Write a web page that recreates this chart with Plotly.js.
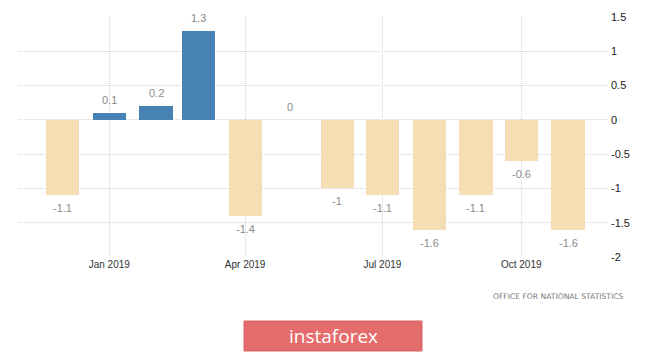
<!DOCTYPE html>
<html>
<head>
<meta charset="utf-8">
<script src="https://cdn.plot.ly/plotly-3.0.1.min.js"></script>
<style>html,body{margin:0;padding:0;background:#fff;}#chart{width:665px;height:352px;}</style>
</head>
<body>
<div id="chart"></div>
<script>
// Data
const months = ['2018-12-01','2019-01-01','2019-02-01','2019-03-01','2019-04-01','2019-05-01','2019-06-01','2019-07-01','2019-08-01','2019-09-01','2019-10-01','2019-11-01'];
const values = [-1.1, 0.1, 0.2, 1.3, -1.4, 0, -1, -1.1, -1.6, -1.1, -0.6, -1.6];
const labels = ['-1.1','0.1','0.2','1.3','-1.4','0','-1','-1.1','-1.6','-1.1','-0.6','-1.6'];
const xTickVals = ['2019-01-01','2019-04-01','2019-07-01','2019-10-01'];
const xTickText = ['Jan 2019','Apr 2019','Jul 2019','Oct 2019'];
const yTickVals = [1.5, 1, 0.5, 0, -0.5, -1, -1.5, -2];
const yTickText = ['1.5','1','0.5','0','-0.5','-1','-1.5','-2'];
const sourceText = 'OFFICE FOR NATIONAL STATISTICS';
const brandText = 'instaforex';

const colors = values.map(v => v > 0 ? '#4682B4' : '#F5DEB3');

const trace = {
  type: 'bar',
  x: months,
  y: values,
  width: 22 * 86400000,
  marker: {color: colors},
  hoverinfo: 'none'
};

// plot area in px: x 18..608, y 17..257
const W = 665, H = 352;
const L = 18, R = 608, T = 17, B = 257;
const px = x => (x - L) / (R - L);
const py = y => (B - y) / (B - T);

const annotations = values.map((v, i) => ({
  x: months[i], y: v, xref: 'x', yref: 'y',
  text: labels[i], showarrow: false,
  yshift: v >= 0 ? 13 : -13,
  font: {family: 'Liberation Sans, Arial, sans-serif', size: 11, color: '#8a8a8a'}
}));

annotations.push({
  xref: 'paper', yref: 'paper', x: px(626), y: py(296), xanchor: 'right', yanchor: 'middle',
  text: sourceText, showarrow: false,
  font: {family: 'DejaVu Sans, sans-serif', size: 7.6, color: '#777'}
});
annotations.push({
  xref: 'paper', yref: 'paper', x: px(333), y: py(336), xanchor: 'center', yanchor: 'middle',
  text: brandText, showarrow: false,
  font: {family: 'Open Sans, DejaVu Sans, sans-serif', size: 19, color: '#ffffff'}
});

const layout = {
  width: W, height: H,
  margin: {l: L, r: W - R, t: T, b: H - B, pad: 0},
  paper_bgcolor: '#fff', plot_bgcolor: '#fff',
  showlegend: false,
  bargap: 0,
  xaxis: {
    type: 'date',
    range: ['2018-11-01 12:00', '2019-11-27 12:00'],
    tickmode: 'array', tickvals: xTickVals, ticktext: xTickText,
    showgrid: true, gridcolor: '#d4d4d4', griddash: '1px,1px', gridwidth: 1,
    zeroline: false, showline: false, ticks: '',
    tickfont: {family: 'Liberation Sans, Arial, sans-serif', size: 10, color: '#333'},
    fixedrange: true
  },
  yaxis: {
    side: 'right',
    range: [-2, 1.5],
    tickmode: 'array', tickvals: yTickVals, ticktext: yTickText,
    showgrid: true, gridcolor: '#d4d4d4', griddash: '1px,1px', gridwidth: 1,
    zeroline: false, showline: false, ticks: '',
    ticklabelstandoff: 2,
    tickfont: {family: 'Liberation Sans, Arial, sans-serif', size: 11, color: '#222'},
    fixedrange: true
  },
  shapes: [{
    type: 'rect', xref: 'paper', yref: 'paper',
    x0: px(244), x1: px(422), y0: py(351), y1: py(321),
    fillcolor: '#E46C6C', line: {color: '#D86464', width: 1}, layer: 'above'
  }],
  annotations: annotations
};

Plotly.newPlot('chart', [trace], layout, {displayModeBar: false, staticPlot: true});
</script>
</body>
</html>
